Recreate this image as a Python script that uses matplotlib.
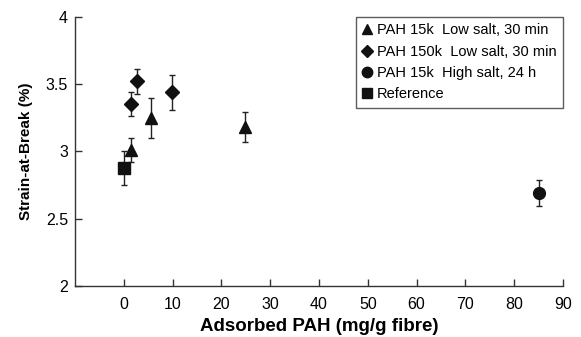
import matplotlib
matplotlib.use("Agg")
import matplotlib.pyplot as plt
from matplotlib.lines import Line2D

plt.rcParams['font.family'] = ['Liberation Sans', 'DejaVu Sans']

# Data
tri_x = [1.5, 5.6, 24.8]
tri_y = [3.01, 3.25, 3.18]
tri_e = [0.09, 0.15, 0.11]

dia_x = [1.4, 2.8, 9.9]
dia_y = [3.35, 3.52, 3.44]
dia_e = [0.09, 0.09, 0.13]

cir_x = [85.0]
cir_y = [2.69]
cir_e = [0.095]

ref_x = [0.0]
ref_y = [2.875]
ref_e = [0.125]

labels = ["PAH 15k  Low salt, 30 min", "PAH 150k  Low salt, 30 min",
          "PAH 15k  High salt, 24 h", "Reference"]

fig = plt.figure(figsize=(5.81, 3.37), dpi=100)
ax = fig.add_axes([0.129, 0.151, 0.840, 0.799])

common = dict(ls='none', color='#111111', ecolor='#222222', elinewidth=1.0,
              capsize=2.2, capthick=1.0)
ax.errorbar(tri_x, tri_y, yerr=tri_e, marker='^', markersize=9, label=labels[0], **common)
ax.errorbar(dia_x, dia_y, yerr=dia_e, marker='D', markersize=7, label=labels[1], **common)
ax.errorbar(cir_x, cir_y, yerr=cir_e, marker='o', markersize=8.5, label=labels[2], **common)
ax.errorbar(ref_x, ref_y, yerr=ref_e, marker='s', markersize=9, label=labels[3], **common)

ax.set_xlim(-10, 90)
ax.set_ylim(2, 4)
ax.set_xticks(range(0, 91, 10))
ax.set_yticks([2, 2.5, 3, 3.5, 4])
ax.set_yticklabels(['2', '2.5', '3', '3.5', '4'])
ax.spines['top'].set_visible(False)
ax.spines['right'].set_visible(False)
for s in ['left', 'bottom']:
    ax.spines[s].set_color('#333333')
    ax.spines[s].set_linewidth(1.0)
ax.tick_params(direction='in', length=5, width=1.0, color='#333333', labelsize=11.5)
ax.tick_params(axis='x', pad=8)
ax.tick_params(axis='y', pad=5)

ax.set_xlabel('Adsorbed PAH (mg/g fibre)', fontsize=13.5, fontweight='bold', labelpad=4)
ax.set_ylabel('Strain-at-Break (%)', fontsize=11, fontweight='bold', labelpad=9)

handles = [Line2D([], [], ls='none', marker=m, color='#111111', markersize=s)
           for m, s in [('^', 7.5), ('D', 6), ('o', 7.5), ('s', 7.5)]]
leg = ax.legend(handles, labels, loc='upper right', bbox_to_anchor=(1.0, 1.0),
                borderaxespad=0, frameon=True, fancybox=False, fontsize=10.5,
                handlelength=0.6, handletextpad=0.4, labelspacing=0.5,
                borderpad=0.45)
leg.get_frame().set_edgecolor('#333333')
leg.get_frame().set_linewidth(1.0)

fig.savefig('out.png', dpi=100)
